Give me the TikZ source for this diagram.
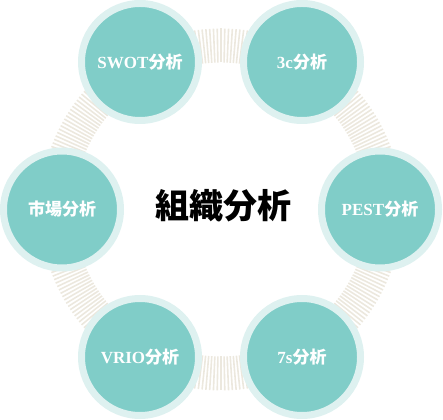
\documentclass[tikz,border=0pt]{standalone}
\usepackage{fontspec}
\setmainfont{Liberation Serif}
\newfontfamily\jpfont{Noto Sans CJK JP}
\definecolor{tealfill}{RGB}{128,205,200}
\definecolor{tealring}{RGB}{222,241,240}
\definecolor{stripegray}{RGB}{236,232,222}
\tikzset{
  item/.style={circle,draw=tealring,line width=7pt,fill=tealfill,
    minimum size=117pt,inner sep=0pt,text=white,
    font=\fontsize{17}{19}\selectfont\bfseries},
  title/.style={font=\jpfont\fontsize{34}{36}\selectfont\bfseries,text=black},
}

\begin{document}
\begin{tikzpicture}[x=1pt,y=1pt]
  \useasboundingbox (0,0) rectangle (443,419);
  \coordinate (C) at (221,209.5);
  % striped ring behind the circles
  \foreach \a in {0,1.2,...,358.8}
    \draw[stripegray,line width=1.6pt] (C) ++(\a:147) -- ++(\a:34);
  \node[item] (swot) at (140,357) {SWOT{\jpfont 分析}};
  \node[item] (threec) at (302,357) {3c{\jpfont 分析}};
  \node[item] (pest) at (380,209.5) {PEST{\jpfont 分析}};
  \node[item] (sevens) at (302,62) {7s{\jpfont 分析}};
  \node[item] (vrio) at (140,62) {VRIO{\jpfont 分析}};
  \node[item] (market) at (62,209.5) {{\jpfont 市場分析}};
  \node[title] (org) at (223,213) {組織分析};
\end{tikzpicture}
\end{document}
